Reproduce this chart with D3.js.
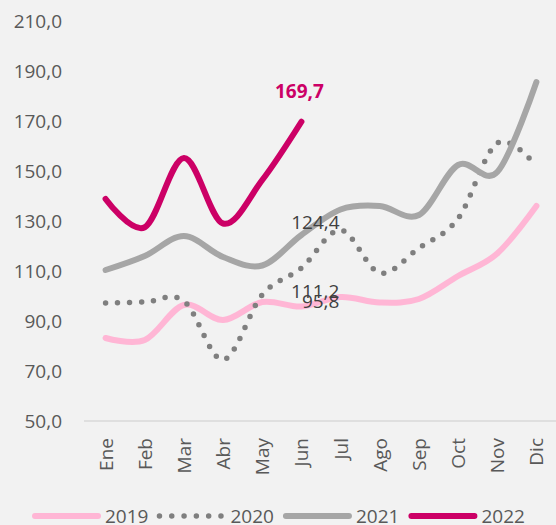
<!DOCTYPE html>
<html>
<head>
<meta charset="utf-8">
<script src="https://cdn.jsdelivr.net/npm/d3@7/dist/d3.min.js"></script>
<style>
  html, body { margin: 0; padding: 0; background: #f2f2f2; }
  svg { display: block; font-family: "Open Sans", "Noto Sans", sans-serif; }
</style>
</head>
<body>
<svg id="chart" width="556" height="525"></svg>
<script>
// Monthly index values per year
const months = ["Ene", "Feb", "Mar", "Abr", "May", "Jun", "Jul", "Ago", "Sep", "Oct", "Nov", "Dic"];
const values2019 = [83.2, 82.4, 96.4, 90.4, 97.6, 95.8, 99.6, 97.4, 98.8, 108.0, 117.0, 136.0];
const values2020 = [97.2, 97.6, 98.0, 74.5, 100.5, 111.2, 126.4, 109.2, 119.2, 131.0, 161.2, 152.0];
const values2021 = [110.4, 116.0, 124.0, 115.6, 112.2, 124.4, 134.6, 136.0, 132.4, 152.4, 149.6, 185.6];
const values2022 = [138.8, 127.5, 155.2, 129.0, 146.4, 169.7];
const yTicks = [50, 70, 90, 110, 130, 150, 170, 190, 210];

const series = [
  { name: "2019", values: values2019, color: "#ffb6d5", dotted: false },
  { name: "2020", values: values2020, color: "#7f7f7f", dotted: true },
  { name: "2021", values: values2021, color: "#a6a6a6", dotted: false },
  { name: "2022", values: values2022, color: "#cc0066", dotted: false }
];

const fmt = v => d3.format(".1f")(v).replace(".", ",");

const svg = d3.select("#chart");
const x = d3.scaleBand().domain(months).range([86, 556]);
const y = d3.scaleLinear().domain([50, 210]).range([421, 21]);
const cx = m => x(m) + x.bandwidth() / 2;

// Y axis labels (no axis line)
svg.append("g")
  .attr("transform", "translate(62,0)")
  .call(d3.axisLeft(y).tickValues(yTicks).tickSize(0).tickPadding(0).tickFormat(fmt))
  .call(g => g.select(".domain").remove())
  .call(g => g.selectAll("text")
    .attr("fill", "#595959")
    .style("font-size", "19px")
    .style("font-family", "'Open Sans', sans-serif"));

// X axis with rotated month labels
const xAxis = svg.append("g")
  .attr("transform", "translate(0,421)")
  .call(d3.axisBottom(x).tickSize(0).tickPadding(0));
xAxis.select(".domain")
  .attr("stroke", "#d9d9d9")
  .attr("stroke-width", 1.5)
  .attr("d", "M84,0H556");
xAxis.selectAll("text")
  .attr("fill", "#595959")
  .style("font-size", "19px")
  .style("font-family", "'Open Sans', sans-serif")
  .attr("text-anchor", "end")
  .attr("dy", null)
  .attr("dominant-baseline", "central")
  .attr("y", 0)
  .attr("transform", "translate(0,17) rotate(-90)");

// Smoothed lines
const line = d3.line()
  .x((d, i) => cx(months[i]))
  .y(d => y(d))
  .curve(d3.curveCardinal.tension(0));

series.forEach(s => {
  const p = svg.append("path")
    .datum(s.values)
    .attr("d", line)
    .attr("fill", "none")
    .attr("stroke", s.color)
    .attr("stroke-linecap", "round")
    .attr("stroke-linejoin", "round");
  if (s.dotted) {
    p.attr("stroke-width", 5.5).attr("stroke-dasharray", "0 12");
  } else {
    p.attr("stroke-width", 6);
  }
});

// Value labels at June
const jun = cx("Jun");
svg.append("text")
  .attr("x", jun + 14).attr("y", 229)
  .attr("text-anchor", "middle")
  .attr("fill", "#404040")
  .style("font-size", "19px")
  .text(fmt(values2021[5]));
svg.append("text")
  .attr("x", jun + 38).attr("y", 298)
  .attr("text-anchor", "end")
  .attr("fill", "#404040")
  .style("font-size", "19px")
  .text(fmt(values2020[5]));
svg.append("text")
  .attr("x", jun + 38).attr("y", 308)
  .attr("text-anchor", "end")
  .attr("fill", "#404040")
  .style("font-size", "19px")
  .text(fmt(values2019[5]));
svg.append("text")
  .attr("x", jun - 2).attr("y", 98)
  .attr("text-anchor", "middle")
  .attr("fill", "#cc0066")
  .style("font-size", "19px")
  .style("font-weight", "bold")
  .text(fmt(values2022[5]));

// Legend
const legend = svg.append("g").attr("transform", "translate(0,516)");
let lx = 32;
series.forEach(s => {
  const g = legend.append("g");
  const l = g.append("line")
    .attr("x1", lx + 3).attr("x2", lx + 66)
    .attr("y1", 0).attr("y2", 0)
    .attr("stroke", s.color)
    .attr("stroke-linecap", "round");
  if (s.dotted) {
    l.attr("x1", lx + 2).attr("x2", lx + 66)
      .attr("stroke-width", 5.5).attr("stroke-dasharray", "0 12.3");
  } else {
    l.attr("stroke-width", 6);
  }
  const t = g.append("text")
    .attr("x", lx + 73).attr("y", 0)
    .attr("dominant-baseline", "central")
    .attr("fill", "#595959")
    .style("font-size", "19px")
    .text(s.name);
  const w = t.node().getComputedTextLength();
  lx = lx + 73 + w + 9;
});
</script>
</body>
</html>
